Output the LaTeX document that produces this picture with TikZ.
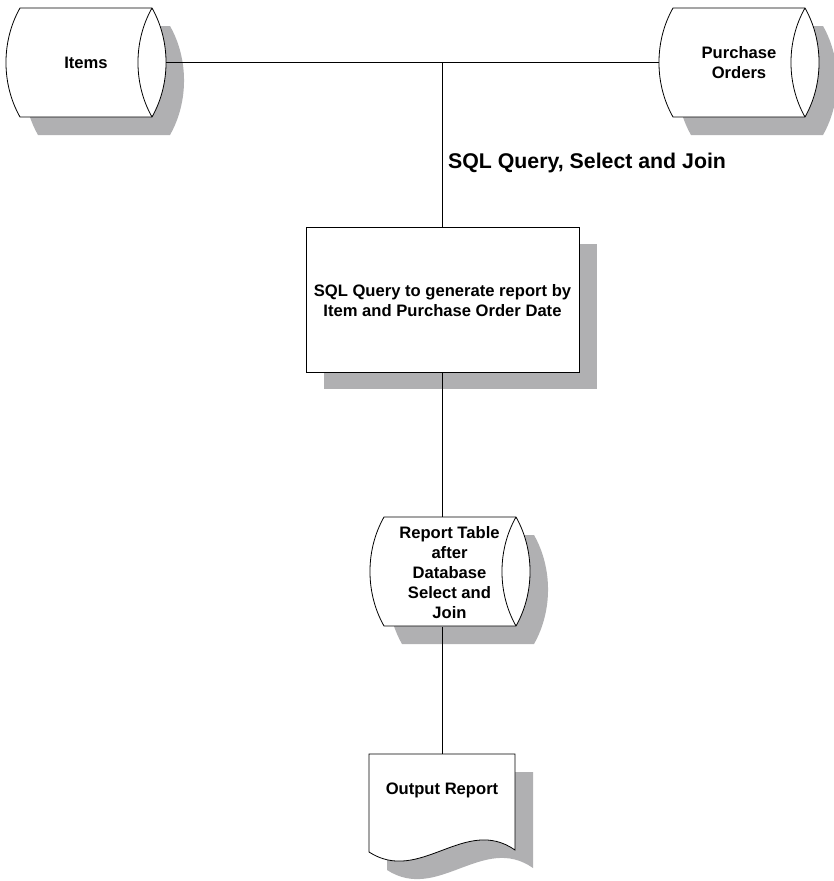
\documentclass[tikz,border=0pt]{standalone}
\usepackage{fontspec}
\setmainfont{Liberation Sans}
\definecolor{shadowgray}{RGB}{176,176,178}
\tikzset{
  x=1pt, y=-1pt,
  outline/.style={draw=black, line width=0.8pt, fill=white},
  shadowfill/.style={fill=shadowgray},
  conn/.style={draw=black, line width=0.8pt},
  lbl/.style={font=\bfseries\fontsize{16.6}{20}\selectfont, align=center, inner sep=0pt},
  biglbl/.style={font=\bfseries\fontsize{21.3}{25}\selectfont, inner sep=0pt},
  cyl/.pic={
    \begin{scope}[shift={(18,18)}]
      \path[shadowfill] (0,0) -- (132,0) .. controls (150.7,33) and (150.7,76) .. (132,109)
        -- (0,109) .. controls (-18.7,76) and (-18.7,33) .. (0,0) -- cycle;
    \end{scope}
    \path[outline] (0,0) -- (132,0) .. controls (150.7,33) and (150.7,76) .. (132,109)
      -- (0,109) .. controls (-18.7,76) and (-18.7,33) .. (0,0) -- cycle;
    \draw[line width=0.8pt] (132,0) .. controls (113.3,33) and (113.3,76) .. (132,109);
    \coordinate (-east) at (146,54.5);
    \coordinate (-west) at (-14,54.5);
    \coordinate (-center) at (66,54.5);
  },
  docshape/.pic={
    \begin{scope}[shift={(18,18)}]
      \path[shadowfill] (0,0) -- (146,0) -- (146,96) .. controls (96,61) and (51,131) .. (0,98) -- cycle;
    \end{scope}
    \path[outline] (0,0) -- (146,0) -- (146,96) .. controls (96,61) and (51,131) .. (0,98) -- cycle;
    \coordinate (-text) at (73,36);
  }
}
\begin{document}
\begin{tikzpicture}
\useasboundingbox (0,0) rectangle (834,881);

\coordinate (junction) at (442,62.5);

% Items
\pic (items) at (20,8) {cyl};
\node[lbl] (itemstxt) at (items-center) {Items};

% Purchase Orders
\pic (po) at (673,8) {cyl};
\node[lbl] (potxt) at (po-center) {Purchase\\Orders};

% SQL box
\fill[shadowgray] (324,244) rectangle (597,389);
\node[outline, minimum width=273pt, minimum height=145pt, inner sep=0pt] (sql) at (442.5,299.5) {};
\node[lbl] (sqltxt) at (442.5,300.5) {SQL Query to generate report by\\Item and Purchase Order Date};

% Report table
\pic (rt) at (384,517) {cyl};
\node[lbl] (rttext) at (449.5,572.5) {Report Table\\after\\Database\\Select and\\Join};

% Output report
\pic (out) at (369,754) {docshape};
\node[lbl] (outtxt) at (out-text) {Output Report};

% label
\node[biglbl, anchor=west] (sqllabel) at (448,163) {SQL Query, Select and Join};

% connectors
\coordinate (rttop) at (442,517);
\coordinate (rtbot) at (442,627);
\coordinate (outtop) at (442,754);
\draw[conn] (items-east) -- (po-west);
\draw[conn] (junction) -- (sql.north -| junction);
\draw[conn] (sql.south -| junction) -- (rttop);
\draw[conn] (rtbot) -- (outtop);
\end{tikzpicture}
\end{document}
